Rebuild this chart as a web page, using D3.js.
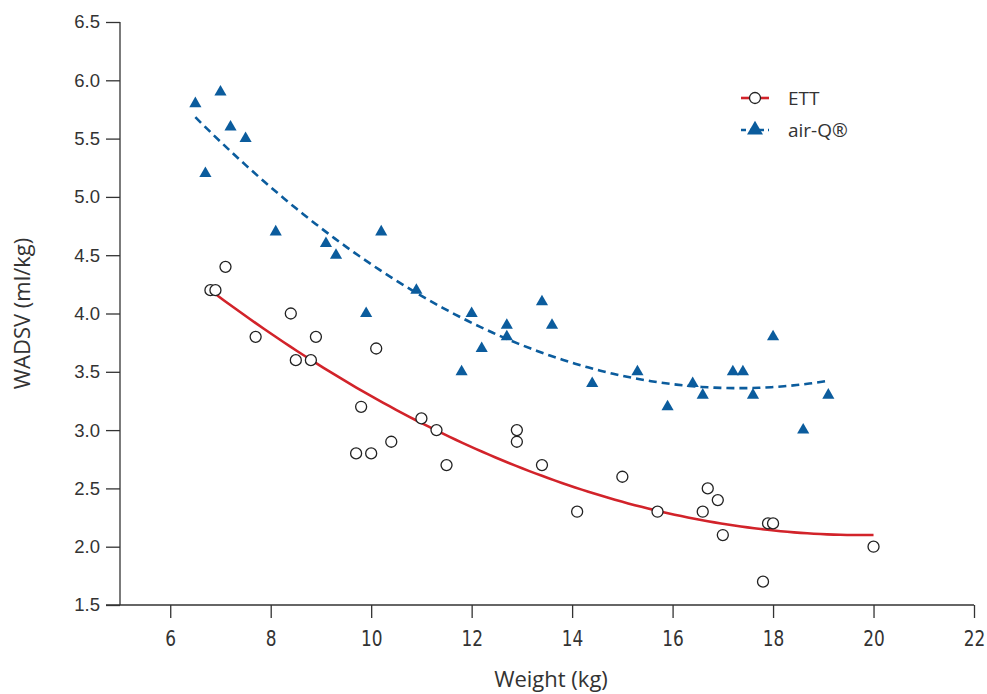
<!DOCTYPE html>
<html>
<head>
<meta charset="utf-8">
<script src="https://cdn.jsdelivr.net/npm/d3@7"></script>
<style>
  body { margin: 0; background: #fff; }
  svg { display: block; }
  .ytick text { font-family: "Liberation Sans", Arial, sans-serif; font-size: 18.5px; fill: #333; }
  .xtick text { font-family: "DejaVu Sans", sans-serif; font-size: 22px; fill: #333; }
  .title { font-family: "Open Sans", "DejaVu Sans", sans-serif; font-size: 22px; fill: #333; }
  .legend text { font-family: "Open Sans", "DejaVu Sans", sans-serif; font-size: 19px; fill: #333; }
</style>
</head>
<body>
<svg id="chart" width="987" height="694"></svg>
<script>
// ETT group (circles)
const ettWeight = [6.8, 6.9, 7.1, 7.7, 8.4, 8.5, 8.8, 8.9, 9.7, 9.8, 10.0, 10.1, 10.4, 11.0, 11.3, 11.5,
                   12.9, 12.9, 13.4, 14.1, 15.0, 15.7, 16.6, 16.7, 16.9, 17.0, 17.8, 17.9, 18.0, 20.0];
const ettWadsv  = [4.2, 4.2, 4.4, 3.8, 4.0, 3.6, 3.6, 3.8, 2.8, 3.2, 2.8, 3.7, 2.9, 3.1, 3.0, 2.7,
                   3.0, 2.9, 2.7, 2.3, 2.6, 2.3, 2.3, 2.5, 2.4, 2.1, 1.7, 2.2, 2.2, 2.0];

// air-Q group (triangles)
const airqWeight = [6.5, 6.7, 7.0, 7.2, 7.5, 8.1, 9.1, 9.3, 9.9, 10.2, 10.9, 11.8, 12.0, 12.2, 12.7,
                    12.7, 13.4, 13.6, 14.4, 15.3, 15.9, 16.4, 16.6, 17.2, 17.4, 17.6, 18.0, 18.6, 19.1];
const airqWadsv  = [5.8, 5.2, 5.9, 5.6, 5.5, 4.7, 4.6, 4.5, 4.0, 4.7, 4.2, 3.5, 4.0, 3.7, 3.9,
                    3.8, 4.1, 3.9, 3.4, 3.5, 3.2, 3.4, 3.3, 3.5, 3.5, 3.3, 3.8, 3.0, 3.3];

const xTicks = [6, 8, 10, 12, 14, 16, 18, 20, 22];
const yTicks = [1.5, 2.0, 2.5, 3.0, 3.5, 4.0, 4.5, 5.0, 5.5, 6.0, 6.5];
const seriesNames = ["ETT", "air-Q®"];

const red = "#d2232a", blue = "#0b5c9d";

const svg = d3.select("#chart");
const margin = { left: 120, right: 13, top: 22, bottom: 89 };
const width = 987, height = 694;

const x = d3.scaleLinear().domain([5, 22]).range([margin.left, width - margin.right]);
const y = d3.scaleLinear().domain([1.5, 6.5]).range([height - margin.bottom, margin.top]);

// quadratic least squares fit
function quadFit(xs, ys) {
  let s = [0, 0, 0, 0, 0], t = [0, 0, 0];
  xs.forEach((xi, i) => {
    for (let k = 0; k < 5; k++) s[k] += Math.pow(xi, k);
    for (let k = 0; k < 3; k++) t[k] += ys[i] * Math.pow(xi, k);
  });
  const A = [[s[0], s[1], s[2], t[0]], [s[1], s[2], s[3], t[1]], [s[2], s[3], s[4], t[2]]];
  for (let c = 0; c < 3; c++) {
    for (let r = c + 1; r < 3; r++) {
      const f = A[r][c] / A[c][c];
      for (let k = c; k < 4; k++) A[r][k] -= f * A[c][k];
    }
  }
  const b = [0, 0, 0];
  for (let r = 2; r >= 0; r--) {
    let v = A[r][3];
    for (let k = r + 1; k < 3; k++) v -= A[r][k] * b[k];
    b[r] = v / A[r][r];
  }
  return xv => b[0] + b[1] * xv + b[2] * xv * xv;
}

function fitLine(xs, ys) {
  const f = quadFit(xs, ys);
  const [lo, hi] = d3.extent(xs);
  return d3.range(0, 101).map(i => {
    const xv = lo + (hi - lo) * i / 100;
    return [xv, f(xv)];
  });
}

const line = d3.line().x(d => x(d[0])).y(d => y(d[1]));

// axes
const xAxis = svg.append("g")
  .attr("class", "xtick")
  .attr("transform", `translate(0,${y(1.5)})`)
  .call(d3.axisBottom(x).tickValues(xTicks).tickSize(13).tickPadding(12).tickFormat(d3.format("d")));
xAxis.select(".domain").attr("d", `M${margin.left - 14},0H${x(22)}`);
// the x labels are set in a narrow face
xAxis.selectAll(".tick text").attr("transform", "scale(0.77,1)");

const yAxis = svg.append("g")
  .attr("class", "ytick")
  .attr("transform", `translate(${x(5)},0)`)
  .call(d3.axisLeft(y).tickValues(yTicks).tickSize(14).tickPadding(6).tickFormat(d3.format(".1f")));
yAxis.select(".domain").attr("d", `M0,${y(6.5)}V${y(1.5)}`);

svg.selectAll(".domain, .tick line").attr("stroke", "#333").attr("stroke-width", 1.3);

svg.append("text").attr("class", "title")
  .attr("x", (x(5) + x(22)) / 2 + 4).attr("y", 687)
  .attr("text-anchor", "middle").text("Weight (kg)");

svg.append("text").attr("class", "title")
  .attr("transform", `translate(30,${(y(1.5) + y(6.5)) / 2}) rotate(-90)`)
  .attr("text-anchor", "middle").text("WADSV (ml/kg)");

// fit lines
svg.append("path")
  .attr("d", line(fitLine(airqWeight, airqWadsv)))
  .attr("fill", "none").attr("stroke", blue).attr("stroke-width", 2.6)
  .attr("stroke-dasharray", "8,5");

svg.append("path")
  .attr("d", line(fitLine(ettWeight, ettWadsv)))
  .attr("fill", "none").attr("stroke", red).attr("stroke-width", 2.6);

// points
const tri = d3.symbol().type(d3.symbolTriangle).size(64);

svg.append("g").selectAll("path")
  .data(d3.zip(airqWeight, airqWadsv))
  .join("path")
  .attr("d", tri)
  .attr("transform", d => `translate(${x(d[0])},${y(d[1])})`)
  .attr("fill", blue);

svg.append("g").selectAll("circle")
  .data(d3.zip(ettWeight, ettWadsv))
  .join("circle")
  .attr("cx", d => x(d[0])).attr("cy", d => y(d[1]))
  .attr("r", 5.5)
  .attr("fill", "#fff").attr("stroke", "#222").attr("stroke-width", 1.3);

// legend
const lg = svg.append("g").attr("class", "legend");
const lx = 755, ly = [98, 130];
lg.append("line").attr("x1", lx - 14).attr("x2", lx + 14).attr("y1", ly[0]).attr("y2", ly[0])
  .attr("stroke", red).attr("stroke-width", 2.6);
lg.append("circle").attr("cx", lx).attr("cy", ly[0]).attr("r", 5.5)
  .attr("fill", "#fff").attr("stroke", "#222").attr("stroke-width", 1.3);
lg.append("line").attr("x1", lx - 14).attr("x2", lx + 14).attr("y1", ly[1]).attr("y2", ly[1])
  .attr("stroke", blue).attr("stroke-width", 2.6).attr("stroke-dasharray", "5,4");
lg.append("path").attr("d", d3.symbol().type(d3.symbolTriangle).size(110))
  .attr("transform", `translate(${lx},${ly[1]})`).attr("fill", blue);
lg.selectAll("text").data(seriesNames).join("text")
  .attr("x", 788).attr("y", (d, i) => ly[i]).attr("dy", "0.35em").text(d => d);
</script>
</body>
</html>
